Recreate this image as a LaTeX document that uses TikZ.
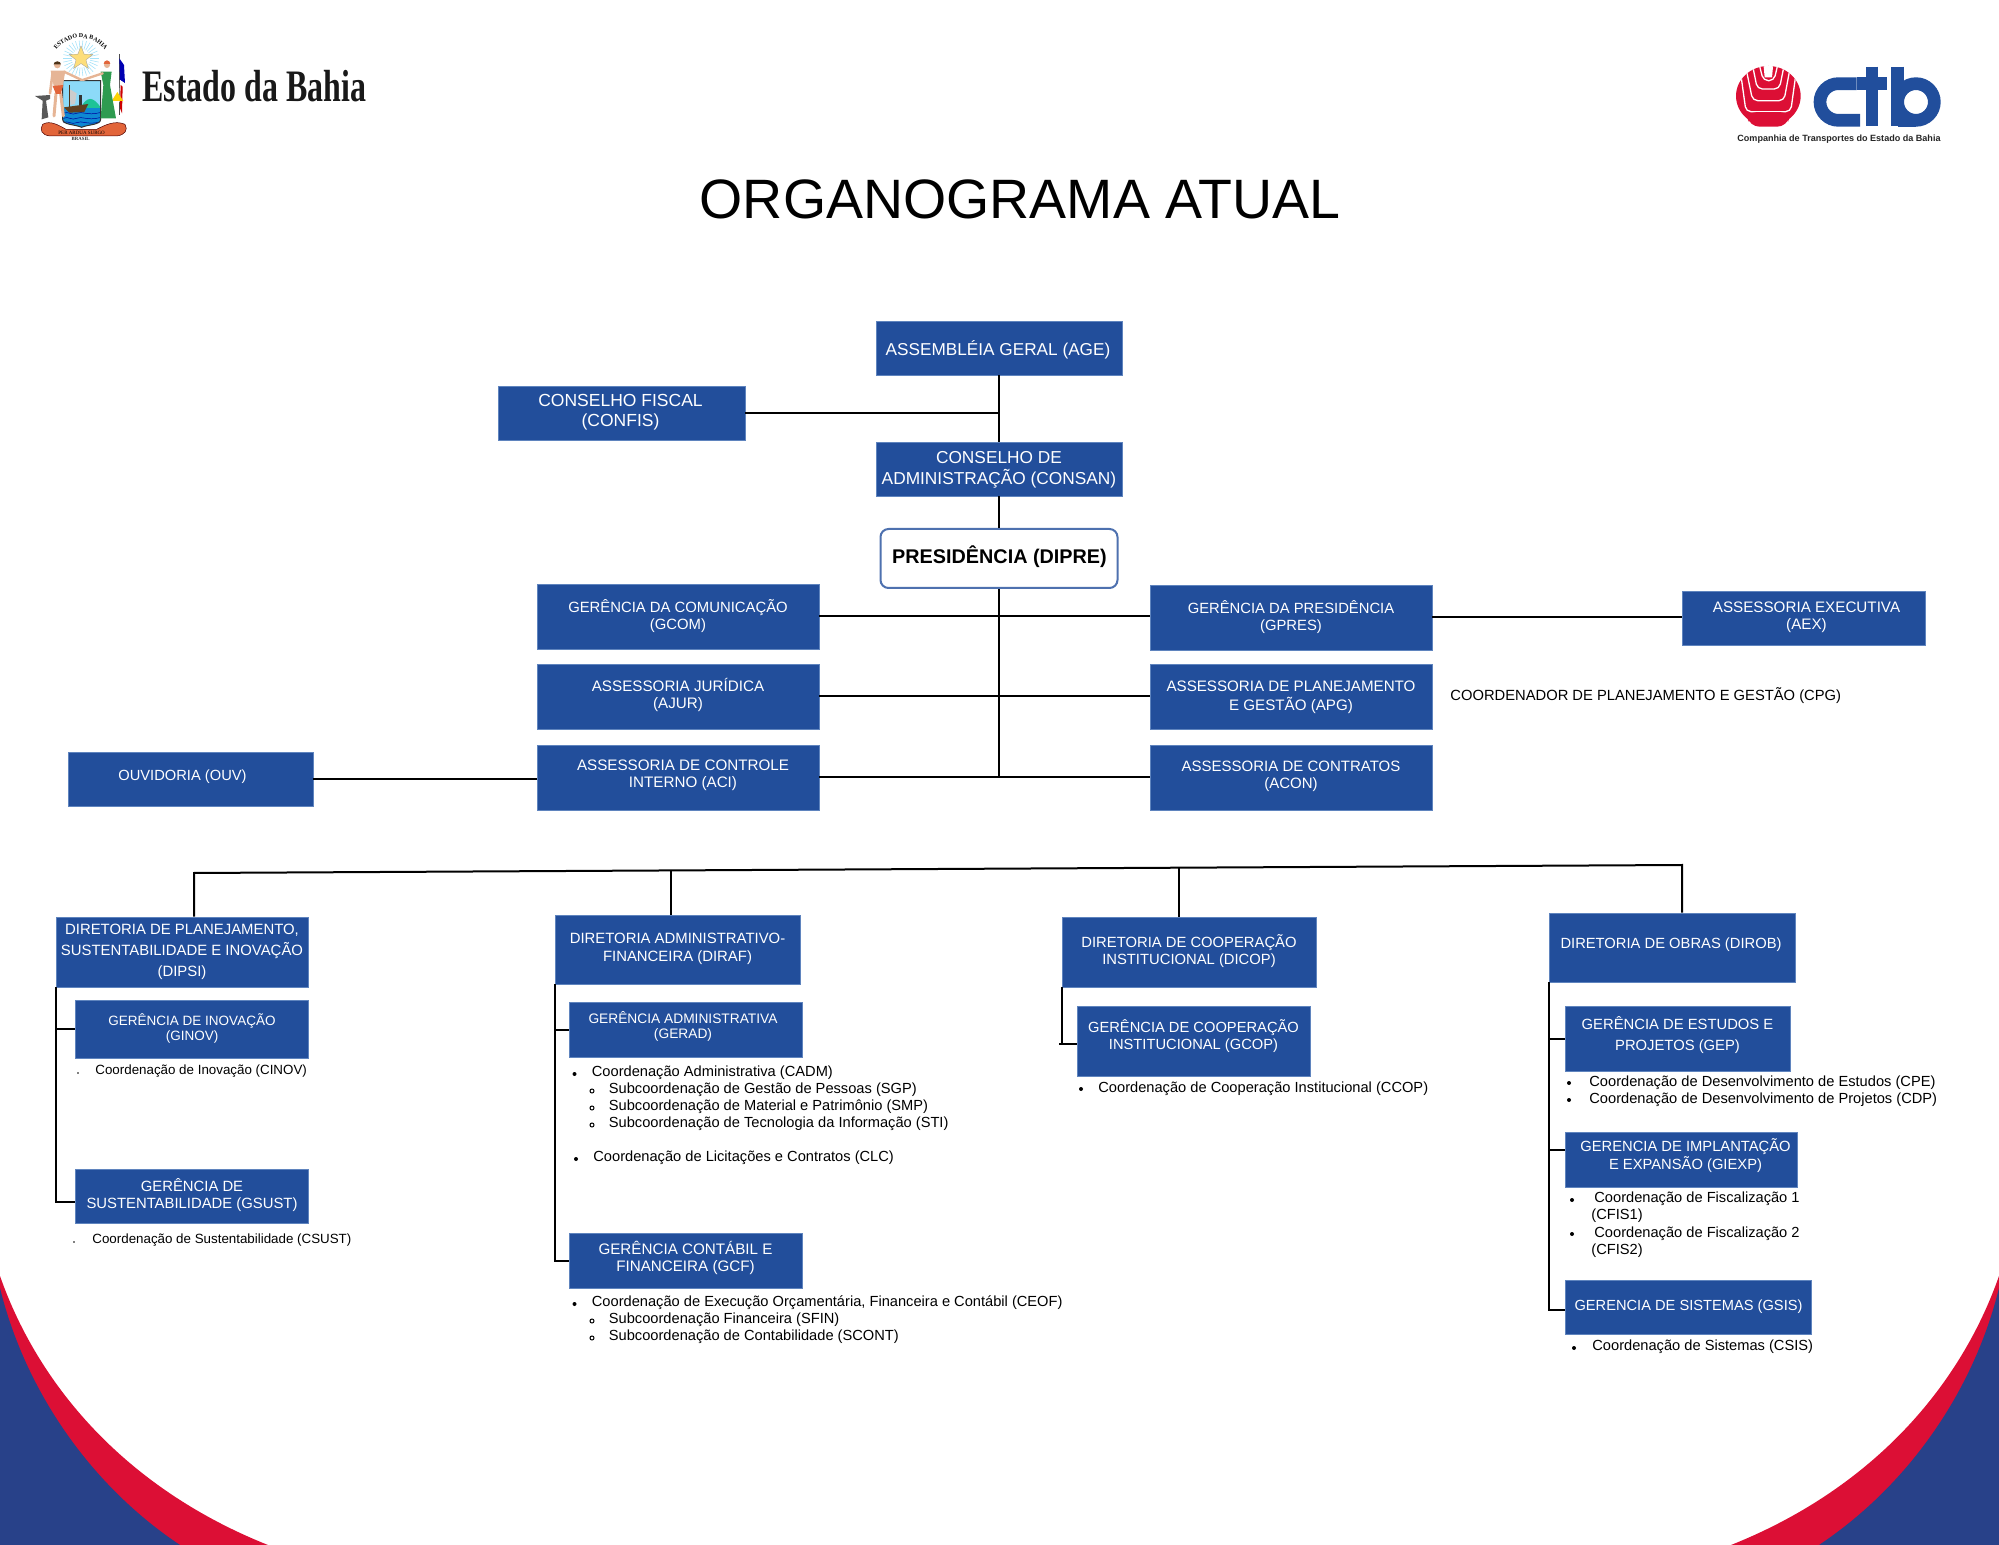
\documentclass[tikz,border=0pt]{standalone}
\usepackage{fontspec}
\usepackage{graphicx}
\usepackage{array}
\setmainfont{Liberation Sans}
\newfontfamily\serifface{Liberation Serif}
\usetikzlibrary{calc,shapes.geometric,decorations.text}
\definecolor{boxblue}{HTML}{224E9B}
\definecolor{boxedge}{HTML}{5F84BE}
\definecolor{cornerblue}{HTML}{284189}
\definecolor{cornerred}{HTML}{DC0F35}
\definecolor{ctbblue}{HTML}{214E9C}
\definecolor{skin}{HTML}{E6B596}
\definecolor{dress}{HTML}{2E9B50}
\definecolor{ribbon}{HTML}{E2653A}
\newcommand\pxfont[1]{\fontsize{\fpeval{(#1)/2}pt}{\fpeval{(#1)*0.6}pt}\selectfont}
% size, line height, dx, dy (pixels), text
\newcommand\tl[5]{\fontsize{\fpeval{(#1)/2}pt}{\fpeval{(#2)/2}pt}\selectfont\smash{\makebox[0pt]{\hspace{\fpeval{#3}pt}\raisebox{\fpeval{-(#4)/2-(#1)*0.304+(#2)*0.1}pt}{\begin{tabular}{@{}c@{}}#5\end{tabular}}}}}
\tikzset{
  orgbox/.style 2 args={draw=boxedge,line width=0.3pt,fill=boxblue,text=white,inner sep=0pt,minimum width=#1*0.5pt,minimum height=#2*0.5pt},
  link/.style={draw=black,line width=1pt},
  item/.style={anchor=base west,inner sep=0pt,font=\pxfont{14.65},text=black},
  smallitem/.style={anchor=base west,inner sep=0pt,font=\pxfont{13.35},text=black},
  bul/.style={fill=black},
  obul/.style={draw=black,line width=0.5pt,fill=white},
}
\begin{document}
\begin{tikzpicture}[x=0.5pt,y=-0.5pt]
\useasboundingbox (0,0) rectangle (1999,1545);
% corners
\fill[cornerred] (0,1276) .. controls (40,1390) and (130,1490) .. (268,1545) -- (0,1545) -- cycle;
\fill[cornerblue] (0,1288) .. controls (25,1390) and (90,1485) .. (180,1545) -- (0,1545) -- cycle;
\fill[cornerred] (1999,1276) .. controls (1959,1390) and (1869,1490) .. (1731,1545) -- (1999,1545) -- cycle;
\fill[cornerblue] (1999,1288) .. controls (1974,1390) and (1909,1485) .. (1819,1545) -- (1999,1545) -- cycle;

% coat of arms
\begin{scope}[shift={(30,30)},scale=1/3]
  \foreach \a in {0,12,...,348} {\draw[color=cyan!35!white,line width=0.3pt] ({153+28*cos(\a)},{85+28*sin(\a)}) -- ({153+54*cos(\a)},{85+54*sin(\a)});}
  \node[star,star points=5,star point ratio=2.4,fill=yellow!55!orange!50!white,draw=black!40,line width=0.15pt,minimum size=12.5pt,inner sep=0pt] (armsstar) at (153,85) {};
  \path[decorate,decoration={text along path,text align=center,text={|\serifface\bfseries\fontsize{3pt}{3.5pt}\selectfont|ESTADO DA BAHIA}}] (72,72) .. controls (105,8) and (200,8) .. (232,72);
  % anvil
  \fill[black!65] (15,198) -- (60,195) -- (60,207) -- (48,212) -- (55,262) -- (35,268) -- (38,212) -- cycle;
  % flag
  \draw[black!70,line width=0.4pt] (268,72) -- (268,255);
  \fill[blue!70!black] (268,85) -- (282,105) -- (285,160) -- (270,150) -- cycle;
  \fill[white] (270,150) -- (285,160) -- (280,230) -- (268,215) -- cycle;
  \fill[red!80!black] (272,165) -- (278,170) -- (276,250) -- (270,235) -- cycle;
  \fill[yellow!70!orange] (245,213) -- (262,186) -- (280,213) -- cycle;
  % shield
  \fill[cyan!45!white] (98,152) -- (212,152) -- (212,268) .. controls (212,285) and (175,283) .. (155,292) .. controls (135,283) and (98,285) .. (98,268) -- cycle;
  \fill[dress!60!cyan] (150,238) .. controls (170,195) and (190,200) .. (212,232) -- (212,240) -- cycle;
  \begin{scope}
    \clip (98,235) rectangle (212,292);
    \fill[cyan!70!blue] (98,152) -- (212,152) -- (212,268) .. controls (212,285) and (175,283) .. (155,292) .. controls (135,283) and (98,285) .. (98,268) -- cycle;
    \foreach \yy in {250,265,278} {\draw[blue!60!black,line width=0.25pt] (100,\yy) .. controls (115,\yy-8) and (125,\yy+8) .. (140,\yy) .. controls (155,\yy-8) and (170,\yy+8) .. (210,\yy-2);}
  \end{scope}
  \draw[black!60!brown,line width=0.35pt] (117,165) -- (117,238);
  \fill[black!20!white] (120,178) -- (140,190) -- (135,222) -- (121,225) -- cycle;
  \fill[black!50!brown] (102,232) -- (175,222) -- (163,246) -- (118,248) -- cycle;
  \fill[black!80] (148,195) rectangle (155,225);
  \draw[black!80,line width=0.5pt] (98,152) -- (212,152) -- (212,268) .. controls (212,285) and (175,283) .. (155,292) .. controls (135,283) and (98,285) .. (98,268) -- cycle;
  % man
  \draw[skin,line width=1.3pt,line cap=round] (68,128) -- (60,190);
  \draw[skin,line width=1.2pt,line cap=round] (102,125) -- (155,150);
  \draw[skin,line width=1.5pt,line cap=round] (78,190) -- (72,258);
  \draw[skin,line width=1.5pt,line cap=round] (92,190) -- (100,258);
  \fill[skin] (62,122) -- (106,122) -- (98,172) -- (72,172) -- cycle;
  \fill[skin] (82,105) circle (10);
  \fill[black!60!brown] (71,103) arc (-180:0:11 and 9) -- cycle;
  \fill[ribbon] (68,168) -- (100,165) -- (92,192) -- (78,192) -- cycle;
  % woman
  \fill[dress] (212,125) -- (245,125) -- (240,165) -- (258,265) -- (212,265) -- (220,165) -- cycle;
  \draw[skin,line width=1.2pt,line cap=round] (218,130) -- (158,150);
  \fill[skin] (231,105) circle (9);
  \fill[ribbon] (221,102) arc (-180:0:10 and 11) -- cycle;
  % ribbon
  \fill[ribbon,draw=black!70!red,line width=0.25pt] (38,283) .. controls (60,270) and (85,285) .. (108,298) -- (200,298) .. controls (225,285) and (255,270) .. (285,283) .. controls (295,300) and (285,315) .. (260,318) -- (60,318) .. controls (35,315) and (28,300) .. (38,283) -- cycle;
  \node[inner sep=0pt,font=\serifface\fontsize{2.5pt}{3pt}\selectfont,text=black] (armsmotto) at (155,309) {PER ARDUA SURGO};
  \node[inner sep=0pt,font=\serifface\bfseries\fontsize{2.4pt}{3pt}\selectfont,text=black!80] (armsbrasil) at (152,327) {BRASIL};
\end{scope}
\node[anchor=base west,inner sep=0pt,font=\serifface\bfseries\pxfont{45},text=black!90] (estado) at (142,102) {\scalebox{0.71}[1]{Estado da Bahia}};

% ctb logo
\begin{scope}[shift={(1700,40)},scale=1/3]
  \begin{scope}
    \clip (205,168) ellipse (97 and 90);
    \fill[cornerred] (100,70) rectangle (310,240);
    \fill[white] (190,70) -- (220,70) -- (216,112) -- (194,112) -- cycle;
    \draw[white,line width=0.65pt,rounded corners=2.5pt] (178,75) -- (190,122) -- (222,122) -- (233,75);
    \draw[white,line width=0.65pt,rounded corners=2.5pt] (158,78) -- (172,147) -- (238,147) -- (252,78);
    \draw[white,line width=0.65pt,rounded corners=2.5pt] (138,85) -- (158,182) -- (252,182) -- (270,85);
    \draw[white,line width=0.65pt,rounded corners=2.5pt] (122,100) -- (138,215) -- (272,215) -- (288,100);
  \end{scope}
  \fill[cornerred,rounded corners=5pt] (139,216.5) -- (271,216.5) -- (262,260) -- (148,260) -- cycle;
  % c
  \draw[ctbblue,line width=6.35pt] (470,131) -- (415,131) arc (-90:-270:55) -- (480,241);
  % t
  \draw[ctbblue,line width=6.35pt] (516,80) -- (516,258);
  \draw[ctbblue,line width=6.35pt] (470,131) -- (560,131);
  % b
  \draw[ctbblue,line width=6.35pt] (593,80) -- (593,258);
  \draw[ctbblue,line width=6.35pt] (648,186) circle (55);
  \draw[ctbblue,line width=6.35pt] (593,241) -- (648,241);
\end{scope}
\node[anchor=base west,inner sep=0pt,font=\pxfont{9.05}\bfseries,text=black!85] (ctbcaption) at (1737,142) {Companhia de Transportes do Estado da Bahia};

% title
\node[anchor=base,inner sep=0pt,font=\pxfont{55.5}] (title) at (1020,218.5) {ORGANOGRAMA ATUAL};

% upper boxes
\node[orgbox={246}{54}] (age) at (999,348) {\tl{17.2}{20}{-1}{0.7}{ASSEMBLÉIA GERAL (AGE)}};
\node[orgbox={247}{54}] (confis) at (621.5,413) {\tl{17.5}{20}{-1}{-3}{CONSELHO FISCAL\\(CONFIS)}};
\node[orgbox={246}{54}] (consan) at (999,469) {\tl{17.3}{20}{0}{-1}{CONSELHO DE\\ADMINISTRAÇÃO (CONSAN)}};
\node[draw=boxblue!80!white,fill=white,line width=1pt,rounded corners=4pt,inner sep=0pt,minimum width=118.5pt,minimum height=29.5pt,font=\bfseries] (dipre) at (999,558.5) {\tl{19.8}{22}{0.5}{-3.5}{PRESIDÊNCIA (DIPRE)}};
\node[orgbox={282}{65}] (gcom) at (678,616.5) {\tl{14.85}{17}{0}{-1.5}{GERÊNCIA DA COMUNICAÇÃO\\(GCOM)}};
\node[orgbox={282}{65}] (ajur) at (678,696.5) {\tl{15.2}{17}{0}{-2}{ASSESSORIA JURÍDICA\\(AJUR)}};
\node[orgbox={282}{65}] (aci) at (678,777.5) {\tl{15.2}{17}{5}{-4}{ASSESSORIA DE CONTROLE\\INTERNO (ACI)}};
\node[orgbox={245}{54}] (ouv) at (190.5,779) {\tl{14.7}{17}{-8}{-4}{OUVIDORIA (OUV)}};
\node[orgbox={282}{65}] (gpres) at (1291,617.5) {\tl{14.8}{17}{0}{-1.5}{GERÊNCIA DA PRESIDÊNCIA\\(GPRES)}};
\node[orgbox={282}{65}] (apg) at (1291,696.5) {\tl{15.15}{19}{0}{-0.5}{ASSESSORIA DE PLANEJAMENTO\\E GESTÃO (APG)}};
\node[orgbox={282}{65}] (acon) at (1291,777.5) {\tl{15}{17}{0}{-3.5}{ASSESSORIA DE CONTRATOS\\(ACON)}};
\node[orgbox={243}{54}] (aex) at (1803.5,618) {\tl{15.2}{17}{3}{-2}{ASSESSORIA EXECUTIVA\\(AEX)}};
\node[anchor=base west,inner sep=0pt,font=\pxfont{14.75}] (cpg) at (1450,701) {COORDENADOR DE PLANEJAMENTO E GESTÃO (CPG)};

% lower boxes
\node[orgbox={252}{70}] (dipsi) at (182,952) {\tl{14.9}{20.7}{0}{-2}{DIRETORIA DE PLANEJAMENTO,\\SUSTENTABILIDADE E INOVAÇÃO\\(DIPSI)}};
\node[orgbox={233}{58}] (ginov) at (192,1029) {\tl{13.5}{15.5}{0}{-1}{GERÊNCIA DE INOVAÇÃO\\(GINOV)}};
\node[orgbox={233}{54}] (gsust) at (192,1196) {\tl{14.85}{17.3}{0}{-2}{GERÊNCIA DE\\SUSTENTABILIDADE (GSUST)}};
\node[orgbox={245}{69}] (diraf) at (677.5,949.5) {\tl{14.9}{18}{0}{-2.5}{DIRETORIA ADMINISTRATIVO-\\FINANCEIRA (DIRAF)}};
\node[orgbox={233}{55}] (gerad) at (685.5,1030) {\tl{13.75}{15}{-2.5}{-5}{GERÊNCIA ADMINISTRATIVA\\(GERAD)}};
\node[orgbox={233}{55}] (gcf) at (685.5,1260.5) {\tl{15.2}{17}{0}{-3.5}{GERÊNCIA CONTÁBIL E\\FINANCEIRA (GCF)}};
\node[orgbox={254}{70}] (dicop) at (1189,952) {\tl{14.8}{17.3}{0}{-2}{DIRETORIA DE COOPERAÇÃO\\INSTITUCIONAL (DICOP)}};
\node[orgbox={233}{70}] (gcop) at (1193.5,1041) {\tl{14.7}{17.3}{0}{-6}{GERÊNCIA DE COOPERAÇÃO\\INSTITUCIONAL (GCOP)}};
\node[orgbox={246}{69}] (dirob) at (1672,947.5) {\tl{14.75}{17}{-1}{-4.5}{DIRETORIA DE OBRAS (DIROB)}};
\node[orgbox={225}{65}] (gep) at (1677.5,1038.5) {\tl{14.8}{21}{0}{-4.5}{GERÊNCIA DE ESTUDOS E\\PROJETOS (GEP)}};
\node[orgbox={232}{55}] (giexp) at (1681,1159.5) {\tl{14.75}{16.7}{4.5}{-5}{GERENCIA DE IMPLANTAÇÃO\\E EXPANSÃO (GIEXP)}};
\node[orgbox={246}{54}] (gsis) at (1688,1307) {\tl{14.65}{17}{0.5}{-2}{GERENCIA DE SISTEMAS (GSIS)}};

% connectors upper
\coordinate (spine) at (999,777);
\draw[link] (age.south) -- (consan.north);
\draw[link] (confis.east) -- (confis.east -| age.south);
\draw[link] (consan.south) -- (dipre.north);
\draw[link] (dipre.south) -- (spine);
\draw[link] (gcom.east) -- (gcom.east -| gpres.west);
\draw[link] (ajur.east) -- (apg.west);
\draw[link] (aci.east) -- (acon.west);
\draw[link] (ouv.east) -- (ouv.east -| aci.west);
\draw[link] (gpres.east) -- (gpres.east -| aex.west);

% connectors lower
\coordinate (busl) at (194,873);
\coordinate (busr) at (1682,865);
\coordinate (busa) at ($(busl)!0.3206!(busr)$);
\coordinate (busb) at ($(busl)!0.6620!(busr)$);
\draw[link] (dipsi.north -| busl) -- (busl) -- (busr) -- (dirob.north -| busr);
\draw[link] (busa) -- (busa |- diraf.north);
\draw[link] (busb) -- (busb |- dicop.north);
\draw[link] (dipsi.south west) |- ($(gsust.west)+(0,6)$);
\draw[link] (dipsi.south west |- ginov.west) -- (ginov.west);
\draw[link] (diraf.south west) |- (gcf.west);
\draw[link] (diraf.south west |- gerad.west) -- (gerad.west);
\coordinate (copstub) at (1059,1044);
\draw[link] (dicop.south west) -- (dicop.south west |- copstub);
\draw[link] (copstub) -- (copstub -| gcop.west);
\draw[link] (dirob.south west) |- ($(gsis.west)+(0,3)$);
\draw[link] (dirob.south west |- gep.west) -- (gep.west);
\draw[link] ($(dirob.south west |- giexp.west)+(0,-10)$) -- ($(giexp.west)+(0,-10)$);

% lists
\node[smallitem] (cinov) at (95,1074) {Coordenação de Inovação (CINOV)};
\node[smallitem] (csust) at (92,1243) {Coordenação de Sustentabilidade (CSUST)};
\node[item] (cadm) at (591.5,1076) {Coordenação Administrativa (CADM)};
\node[item] (sgp) at (608.5,1093) {Subcoordenação de Gestão de Pessoas (SGP)};
\node[item] (smp) at (608.5,1110) {Subcoordenação de Material e Patrimônio (SMP)};
\node[item] (sti) at (608.5,1127) {Subcoordenação de Tecnologia da Informação (STI)};
\node[item] (clc) at (593,1161) {Coordenação de Licitações e Contratos (CLC)};
\node[item] (ceof) at (591.5,1306) {Coordenação de Execução Orçamentária, Financeira e Contábil (CEOF)};
\node[item] (sfin) at (608.5,1323) {Subcoordenação Financeira (SFIN)};
\node[item] (scont) at (608.5,1340) {Subcoordenação de Contabilidade (SCONT)};
\node[item] (ccop) at (1098,1092) {Coordenação de Cooperação Institucional (CCOP)};
\node[item] (cpe) at (1589,1086) {Coordenação de Desenvolvimento de Estudos (CPE)};
\node[item] (cdp) at (1589,1103) {Coordenação de Desenvolvimento de Projetos (CDP)};
\node[item] (cfisa) at (1594,1202) {Coordenação de Fiscalização 1};
\node[item] (cfisaa) at (1591,1219) {(CFIS1)};
\node[item] (cfisb) at (1594,1237) {Coordenação de Fiscalização 2};
\node[item] (cfisbb) at (1591,1254) {(CFIS2)};
\node[item] (csis) at (1592,1350) {Coordenação de Sistemas (CSIS)};

% bullets
\fill[bul] (78,1073) circle (0.9);
\fill[bul] (74,1242) circle (0.9);
\foreach \px/\py in {574.5/1074,576/1159,574.5/1304,1081/1089,1569/1083,1569/1100,1572/1200,1572/1234,1574/1348} {\fill[bul] (\px,\py) circle (2);}
\foreach \py in {1091,1108,1125,1321,1338} {\draw[obul] (592,\py) circle (2);}
\end{tikzpicture}
\end{document}
